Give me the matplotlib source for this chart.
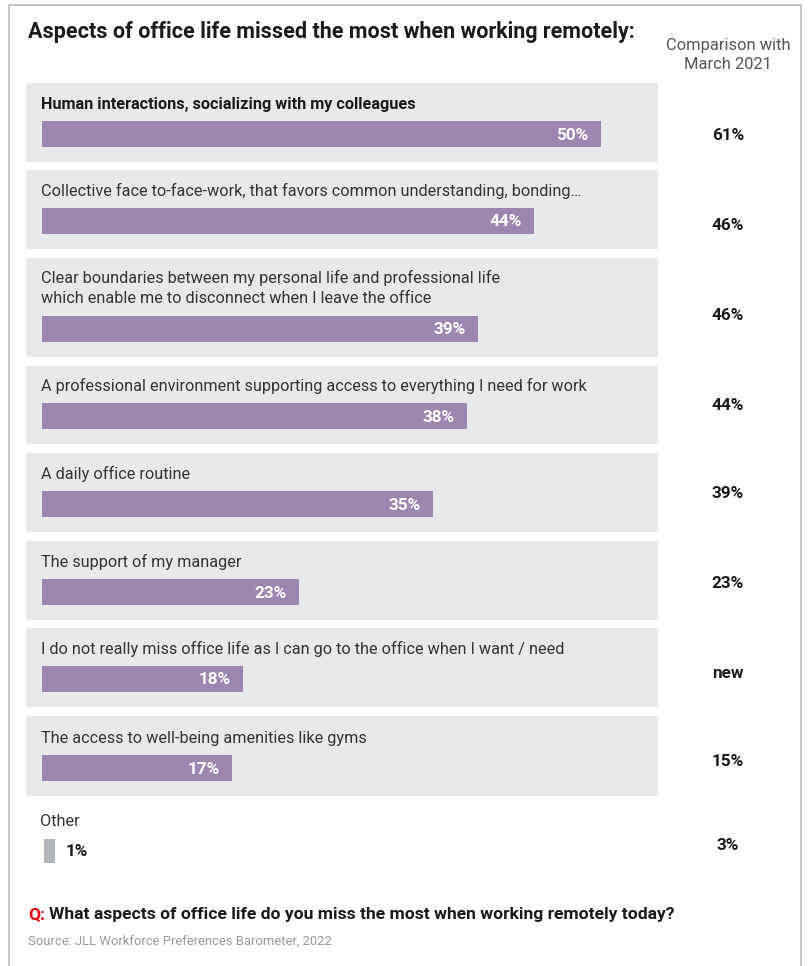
import matplotlib.pyplot as plt
from matplotlib.patches import Rectangle
from matplotlib import font_manager

# survey results, share of respondents (%)
labels = [
    "Human interactions, socializing with my colleagues",
    "Collective face to-face-work, that favors common understanding, bonding\u2026",
    "Clear boundaries between my personal life and professional life\nwhich enable me to disconnect when I leave the office",
    "A professional environment supporting access to everything I need for work",
    "A daily office routine",
    "The support of my manager",
    "I do not really miss office life as I can go to the office when I want / need",
    "The access to well-being amenities like gyms",
]
values = [50, 44, 39, 38, 35, 23, 18, 17]
march_2021 = ["61%", "46%", "46%", "44%", "39%", "23%", "new", "15%"]
other_value = 1
other_march_2021 = "3%"

# layout in pixels
W, H = 808, 966
panel_top = [83, 170, 258, 366, 453, 541, 628, 716]
panel_bot = [162, 249, 357, 444, 532, 620, 707, 796]
cmp_y = [135, 226, 315, 405, 494, 583, 673, 762]
px_per_pct = 11.18
bar_x0 = 42
panel_x0, panel_x1 = 26, 658

purple = "#9D87B0"
panel_gray = "#E8E9EB"
dark = "#1A1A1A"

font = "Roboto"
avail = {f.name for f in font_manager.fontManager.ttflist}
if font not in avail:
    font = "DejaVu Sans"
plt.rcParams["font.family"] = font

fs_label = 11.7
fs_val = 12.3

fig = plt.figure(figsize=(W / 100, H / 100), dpi=100)
bg = fig.add_axes([0, 0, 1, 1])
bg.set_xlim(0, W)
bg.set_ylim(H, 0)
bg.axis("off")

# frame around the card (open at the bottom)
bg.plot([9, 9, 801, 801], [H, 5, 5, H], color="#BBBBBB", lw=1.2)

bg.text(28, 32, "Aspects of office life missed the most when working remotely:",
        fontsize=15.5, fontweight="bold", color=dark, va="center")
bg.text(728, 55, "Comparison with\nMarch 2021", fontsize=11.9, color="#555555",
        ha="center", va="center", linespacing=1.3)

# bar axes: x in percent, y in pixels
ax = fig.add_axes([bar_x0 / W, 0, (panel_x1 - bar_x0) / W, 1])
ax.set_xlim(0, (panel_x1 - bar_x0) / px_per_pct)
ax.set_ylim(H, 0)
ax.axis("off")
ax.patch.set_alpha(0)

bar_h = 26
bar_y = []
for i, lab in enumerate(labels):
    top, bot = panel_top[i], panel_bot[i]
    bg.add_patch(Rectangle((panel_x0, top), panel_x1 - panel_x0, bot - top,
                           color=panel_gray, lw=0, zorder=0))
    yc = bot - 15 - bar_h / 2
    bar_y.append(yc)
    n_lines = lab.count("\n") + 1
    bg.text(41, yc - bar_h / 2 - 17 - (n_lines - 1) * 11, lab,
            fontsize=fs_label, color=dark if i == 0 else "#333333",
            fontweight="bold" if i == 0 else "normal",
            va="center", linespacing=1.4)
    bg.text(728, cmp_y[i], march_2021[i], fontsize=fs_val, fontweight="bold",
            color=dark, ha="center", va="center")

ax.barh(bar_y, values, height=bar_h, left=0, color=purple, zorder=2)
for yc, v in zip(bar_y, values):
    ax.text(v - 1.1, yc + 1, f"{v}%", fontsize=fs_val, fontweight="bold",
            color="white", ha="right", va="center", zorder=3)

# "Other" row
bg.text(40, 821, "Other", fontsize=fs_label, color="#333333", va="center")
ax.barh([851], [other_value], height=24, left=0.18, color="#B1B5BA", lw=0)
bg.text(66, 852, f"{other_value}%", fontsize=fs_val, fontweight="bold",
        color=dark, va="center")
bg.text(728, 846, other_march_2021, fontsize=fs_val, fontweight="bold",
        color=dark, ha="center", va="center")

# question and source
q = bg.text(28, 915, "Q:", fontsize=12.6, fontweight="bold", color="#E30613", va="center")
fig.canvas.draw()
bb = q.get_window_extent()
x_after = bb.x1 + 4
bg.text(x_after, 915, "What aspects of office life do you miss the most when working remotely today?",
        fontsize=12.6, fontweight="bold", color=dark, va="center")
bg.text(28, 941, "Source: JLL Workforce Preferences Barometer, 2022",
        fontsize=9.35, color="#999999", va="center")

fig.savefig("out.png", dpi=100)
